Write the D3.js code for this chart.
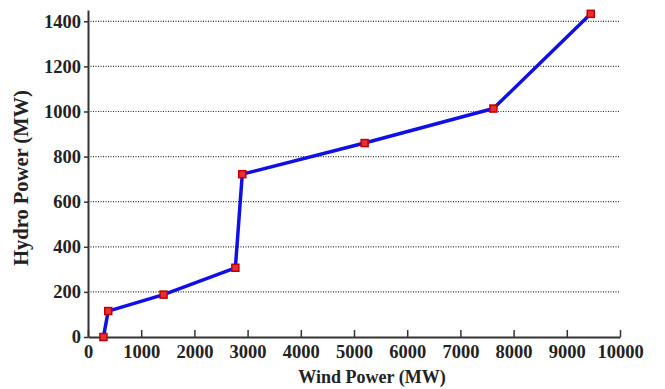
<!DOCTYPE html>
<html>
<head>
<meta charset="utf-8">
<script src="https://cdn.jsdelivr.net/npm/d3@7"></script>
<style>
  body { margin: 0; background: #fff; }
  text { font-family: "Liberation Serif", "DejaVu Serif", serif; font-weight: bold; fill: #222; }
</style>
</head>
<body>
<div id="chart"></div>
<script>
// wind power (MW) vs hydro power (MW)
var windPower = [290, 380, 1420, 2770, 2900, 5200, 7620, 9450];
var hydroPower = [0, 115, 188, 307, 722, 860, 1013, 1433];
var xTicks = [0, 1000, 2000, 3000, 4000, 5000, 6000, 7000, 8000, 9000, 10000];
var yTicks = [0, 200, 400, 600, 800, 1000, 1200, 1400];

var width = 665, height = 389;
var margin = { left: 88, right: 45, top: 10, bottom: 52 };

var svg = d3.select('#chart').append('svg')
  .attr('width', width)
  .attr('height', height);

var x = d3.scaleLinear().domain([0, 10000]).range([margin.left, width - margin.right]);
var y = d3.scaleLinear().domain([0, 1450]).range([height - margin.bottom, margin.top]);

// grid lines
svg.append('g').selectAll('line')
  .data(yTicks.filter(function(d) { return d > 0; }))
  .enter().append('line')
  .attr('x1', x(0)).attr('x2', x(10000))
  .attr('y1', function(d) { return y(d); })
  .attr('y2', function(d) { return y(d); })
  .attr('stroke', '#333')
  .attr('stroke-width', 1.2)
  .attr('stroke-dasharray', '1,1.5');

var xAxis = svg.append('g')
  .attr('transform', 'translate(0,' + y(0) + ')')
  .call(d3.axisBottom(x).tickValues(xTicks).tickFormat(d3.format('d')).tickSizeInner(-7).tickSizeOuter(0).tickPadding(8));

var yAxis = svg.append('g')
  .attr('transform', 'translate(' + x(0) + ',0)')
  .call(d3.axisLeft(y).tickValues(yTicks).tickFormat(d3.format('d')).tickSizeInner(4).tickSizeOuter(0).tickPadding(3));

[xAxis, yAxis].forEach(function(a) {
  a.attr('font-family', null).attr('font-size', null);
  a.select('.domain').attr('stroke', '#333').attr('stroke-width', 2);
  a.selectAll('.tick line').attr('stroke', '#333').attr('stroke-width', 1.5);
  a.selectAll('.tick text')
    .style('font-size', '18.5px')
    .style('font-family', '"Liberation Serif", serif')
    .style('font-weight', 'bold')
    .attr('fill', '#222');
});

// line
var line = d3.line()
  .x(function(d, i) { return x(windPower[i]); })
  .y(function(d, i) { return y(hydroPower[i]); });

svg.append('path')
  .datum(hydroPower)
  .attr('d', line)
  .attr('fill', 'none')
  .attr('stroke', '#1010e6')
  .attr('stroke-width', 3.5)
  .attr('stroke-linejoin', 'round');

// markers
svg.append('g').selectAll('rect')
  .data(hydroPower)
  .enter().append('rect')
  .attr('x', function(d, i) { return x(windPower[i]) - 3.5; })
  .attr('y', function(d) { return y(d) - 3.5; })
  .attr('width', 7)
  .attr('height', 7)
  .attr('fill', '#e83030')
  .attr('stroke', '#c00000')
  .attr('stroke-width', 1.5);

// axis labels
svg.append('text')
  .attr('x', 372)
  .attr('y', 383)
  .attr('text-anchor', 'middle')
  .style('font-size', '18px')
  .text('Wind Power (MW)');

svg.append('text')
  .attr('transform', 'translate(28,178) rotate(-90)')
  .attr('text-anchor', 'middle')
  .style('font-size', '20.5px')
  .text('Hydro Power (MW)');
</script>
</body>
</html>
